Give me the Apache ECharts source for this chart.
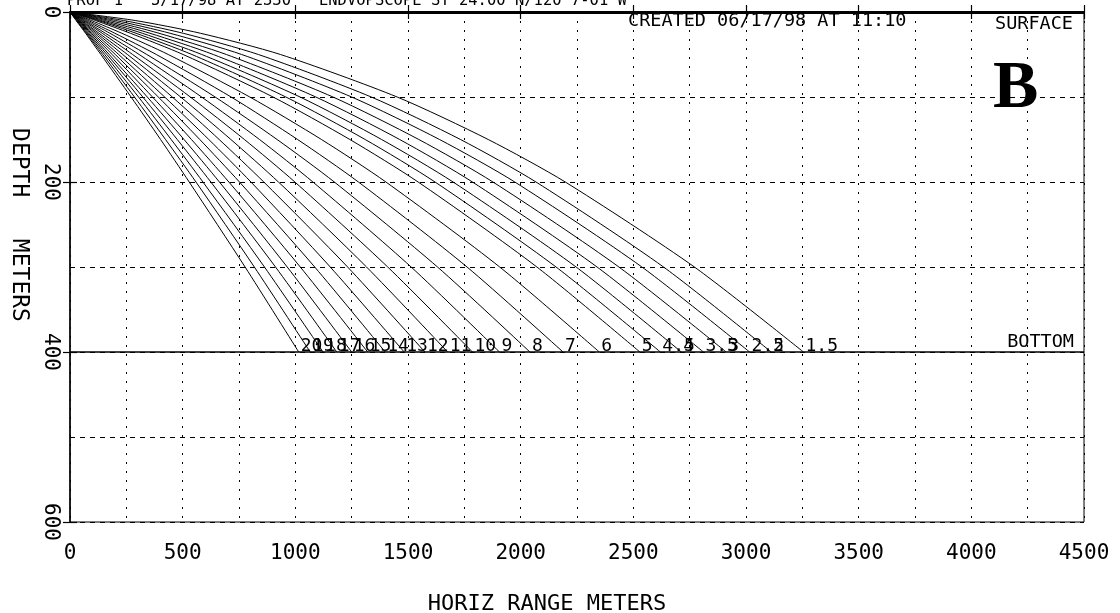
<!DOCTYPE html>
<html>
<head>
<meta charset="utf-8">
<title>Ray trace B</title>
<script src="https://cdn.jsdelivr.net/npm/echarts@6/dist/echarts.min.js"></script>
<style>
  html, body { margin: 0; padding: 0; background: #fff; }
  #chart { width: 1120px; height: 613px; }
</style>
</head>
<body>
<div id="chart"></div>
<script>
// launch angles (deg), one ray each, labelled where it hits the bottom
const rayLabels = ['20', '19', '18', '17', '16', '15', '14', '13', '12', '11', '10',
  '9', '8', '7', '6', '5', '4.5', '4', '3.5', '3', '2.5', '2', '1.5'];

// depths (m) at which each ray's horizontal range was read
const depthLevels = [0, 10, 25, 50, 100, 150, 200, 300, 400];

// horizontal range (m) of each ray at each depth level, same order as rayLabels
const rangeAt0 = [0, 0, 0, 0, 0, 0, 0, 0, 0, 0, 0, 0, 0, 0, 0, 0, 0, 0, 0, 0, 0, 0, 0];
const rangeAt10 = [27, 29, 31, 34, 36, 38, 41, 44, 48, 52, 58, 64, 72, 82, 95, 113, 125, 137, 154, 176, 203, 238, 289];
const rangeAt25 = [69, 73, 77, 82, 88, 94, 101, 110, 119, 129, 143, 157, 177, 199, 230, 268, 293, 321, 355, 395, 444, 502, 579];
const rangeAt50 = [137, 145, 154, 164, 174, 187, 201, 216, 234, 255, 278, 307, 341, 383, 436, 502, 541, 585, 636, 694, 762, 836, 934];
const rangeAt100 = [271, 286, 304, 323, 343, 366, 392, 420, 454, 491, 534, 584, 644, 715, 798, 901, 958, 1021, 1091, 1167, 1250, 1337, 1452];
const rangeAt150 = [402, 424, 449, 476, 506, 539, 576, 616, 662, 714, 774, 841, 919, 1010, 1116, 1242, 1310, 1383, 1463, 1548, 1640, 1733, 1856];
const rangeAt200 = [529, 559, 590, 625, 663, 705, 752, 803, 860, 925, 998, 1078, 1173, 1280, 1402, 1545, 1620, 1700, 1786, 1877, 1974, 2068, 2198];
const rangeAt300 = [777, 818, 863, 912, 964, 1022, 1086, 1155, 1232, 1316, 1410, 1514, 1631, 1762, 1907, 2072, 2157, 2246, 2339, 2436, 2538, 2634, 2771];
const rangeAt400 = [1015, 1066, 1123, 1184, 1250, 1321, 1399, 1483, 1575, 1676, 1786, 1906, 2041, 2188, 2349, 2529, 2620, 2713, 2811, 2912, 3016, 3112, 3255];

const rangeByDepth = [rangeAt0, rangeAt10, rangeAt25, rangeAt50, rangeAt100,
  rangeAt150, rangeAt200, rangeAt300, rangeAt400];

const surfaceDepth = 0;
const bottomDepth = 400;

const font = "'DejaVu Sans Mono', 'Liberation Mono', monospace";

const container = document.getElementById('chart');
const chart = echarts.init(container, null, { renderer: 'canvas' });

const rays = rayLabels.map(function (label, i) {
  return {
    name: label,
    type: 'line',
    data: depthLevels.map(function (d, k) { return [rangeByDepth[k][i], d]; }),
    showSymbol: false,
    smooth: 0.25,
    silent: true,
    lineStyle: { color: '#000', width: 1 },
    endLabel: {
      show: true,
      formatter: label,
      color: '#000',
      fontFamily: font,
      fontSize: 18,
      distance: 2,
      verticalAlign: 'bottom',
      offset: [0, 3]
    }
  };
});

// surface and bottom lines
rays[0].markLine = {
  silent: true,
  symbol: 'none',
  label: { show: false },
  data: [
    { yAxis: surfaceDepth, lineStyle: { color: '#000', width: 3, type: 'solid' } },
    { yAxis: bottomDepth, lineStyle: { color: '#000', width: 1.5, type: 'solid' } }
  ]
};

const gridDots = { color: '#000', width: 1, type: [2, 7] };
const gridDash = { color: '#000', width: 1, type: [5, 5] };
const plainNumber = function (v) { return String(v); };

const option = {
  backgroundColor: '#fff',
  animation: false,
  grid: {
    left: 70, right: 36, top: 12, bottom: 91,
    show: true, borderColor: '#000', borderWidth: 1
  },
  xAxis: [{
    type: 'value',
    min: 0, max: 4500, interval: 500,
    axisLine: { lineStyle: { color: '#000', width: 2 } },
    axisTick: { length: 7, lineStyle: { color: '#000', width: 1.2 } },
    axisLabel: { color: '#000', fontFamily: font, fontSize: 21, margin: 21, formatter: plainNumber },
    splitLine: { show: true, lineStyle: gridDots },
    minorTick: { show: false, splitNumber: 2 },
    minorSplitLine: { show: true, lineStyle: gridDots }
  }, {
    // inner half of the cross ticks
    type: 'value',
    position: 'bottom',
    min: 0, max: 4500, interval: 500,
    axisLine: { show: false },
    axisTick: { inside: true, length: 7, lineStyle: { color: '#000', width: 1.2 } },
    axisLabel: { show: false },
    splitLine: { show: false }
  }],
  yAxis: [{
    type: 'value',
    inverse: true,
    min: 0, max: 600, interval: 200,
    axisLine: { show: true, lineStyle: { color: '#000', width: 1.5 } },
    axisTick: { show: true, length: 7, lineStyle: { color: '#000', width: 1.2 } },
    axisLabel: { color: '#000', fontFamily: font, fontSize: 21, rotate: -90, margin: 9, formatter: plainNumber },
    splitLine: { show: true, lineStyle: gridDash },
    minorTick: { show: false, splitNumber: 2 },
    minorSplitLine: { show: true, lineStyle: gridDash }
  }, {
    type: 'value',
    position: 'left',
    inverse: true,
    min: 0, max: 600, interval: 200,
    axisLine: { show: false },
    axisTick: { show: true, inside: true, length: 7, lineStyle: { color: '#000', width: 1.2 } },
    axisLabel: { show: false },
    splitLine: { show: false }
  }],
  graphic: [
    {
      type: 'text', x: 67, y: 9,
      style: { text: 'PROF 1   5/17/98 AT 2330   ENDVOPSCOPE ST 24:00 N/120 7-01 W',
        font: '15.5px ' + font, fill: '#000', align: 'left', verticalAlign: 'bottom' }
    },
    {
      type: 'text', x: 628, y: 21,
      style: { text: 'CREATED 06/17/98 AT 11:10', font: '18.5px ' + font, fill: '#000',
        align: 'left', verticalAlign: 'middle' }
    },
    {
      type: 'text', x: 1073, y: 24,
      style: { text: 'SURFACE', font: '18.5px ' + font, fill: '#000',
        align: 'right', verticalAlign: 'middle' }
    },
    {
      type: 'text', x: 993, y: 89,
      style: { text: 'B', font: 'bold 68px "Liberation Serif", "DejaVu Serif", serif', fill: '#000',
        align: 'left', verticalAlign: 'middle' }
    },
    {
      type: 'text', x: 1074, y: 342,
      style: { text: 'BOTTOM', font: '18.5px ' + font, fill: '#000',
        align: 'right', verticalAlign: 'middle' }
    },
    {
      type: 'text', x: 19, y: 225, rotation: -Math.PI / 2,
      style: { text: 'DEPTH   METERS', font: '23px ' + font, fill: '#000',
        align: 'center', verticalAlign: 'middle' }
    },
    {
      type: 'text', x: 547, y: 604,
      style: { text: 'HORIZ RANGE METERS', font: '22px ' + font, fill: '#000',
        align: 'center', verticalAlign: 'middle' }
    }
  ],
  series: rays
};

chart.setOption(option);
</script>
</body>
</html>
